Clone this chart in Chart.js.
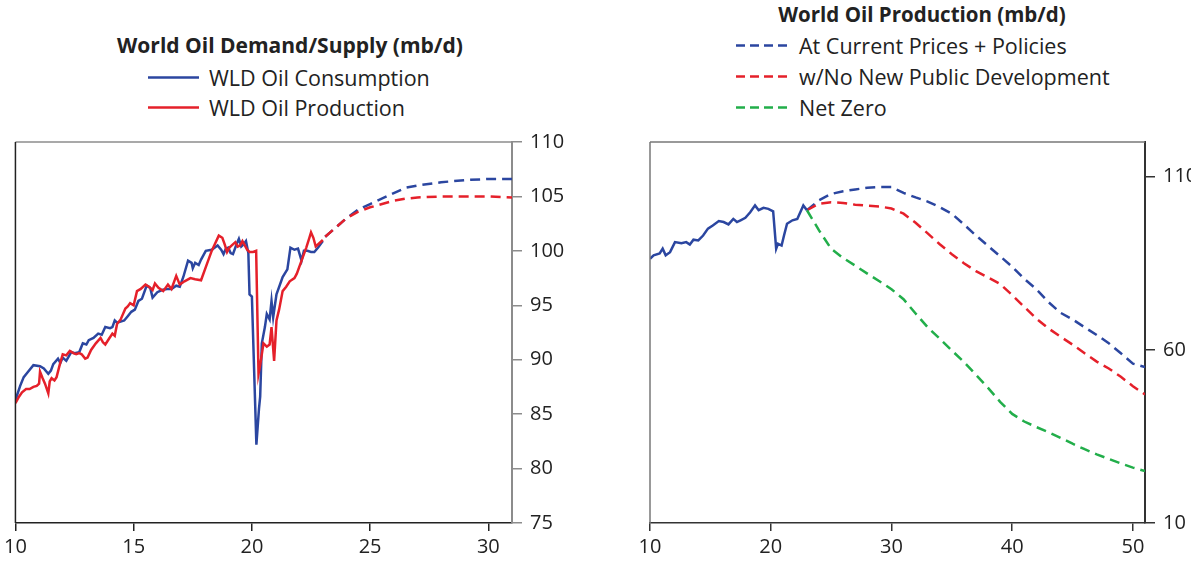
<!DOCTYPE html>
<html lang="en">
<head>
    <meta charset="UTF-8">
    <title>World Oil Demand / Supply</title>
    <script src="https://cdn.jsdelivr.net/npm/chart.js"></script>
    <style>
        body {
            margin: 0;
            background: #fff;
            font-family: "Open Sans", sans-serif;
            color: #222;
        }
        .page {
            position: relative;
            width: 1191px;
            height: 561px;
            overflow: hidden;
        }
        canvas {
            position: absolute;
            top: 122px;
        }
        .legend-title {
            position: absolute;
            font-weight: bold;
            font-size: 21px;
            white-space: nowrap;
            transform: translate(-50%, -50%);
        }
        .legend-item {
            position: absolute;
            font-size: 21.5px;
            white-space: nowrap;
            transform: translateY(-50%);
            display: flex;
            align-items: center;
        }
        .legend-item svg {
            margin-right: 10px;
        }
    </style>
</head>
<body>
<div class="page">
    <div class="legend-title" style="left:290px; top:45px;">World Oil Demand/Supply (mb/d)</div>
    <div class="legend-item" style="left:148px; top:77px;">
        <svg width="51" height="4"><line x1="0" y1="2" x2="51" y2="2" stroke="#2B46A0" stroke-width="2.5"/></svg>WLD Oil Consumption
    </div>
    <div class="legend-item" style="left:148px; top:107px;">
        <svg width="51" height="4"><line x1="0" y1="2" x2="51" y2="2" stroke="#E5202A" stroke-width="2.5"/></svg>WLD Oil Production
    </div>

    <div class="legend-title" style="left:922px; top:14px; font-size:20.5px;">World Oil Production (mb/d)</div>
    <div class="legend-item" style="left:736px; top:45px;">
        <svg width="53" height="4"><line x1="0" y1="2" x2="53" y2="2" stroke="#2B46A0" stroke-width="2.5" stroke-dasharray="9 5"/></svg>At Current Prices + Policies
    </div>
    <div class="legend-item" style="left:736px; top:76px;">
        <svg width="53" height="4"><line x1="0" y1="2" x2="53" y2="2" stroke="#E5202A" stroke-width="2.5" stroke-dasharray="9 5"/></svg>w/No New Public Development
    </div>
    <div class="legend-item" style="left:736px; top:107px;">
        <svg width="53" height="4"><line x1="0" y1="2" x2="53" y2="2" stroke="#22AE4A" stroke-width="2.5" stroke-dasharray="9 5"/></svg>Net Zero
    </div>

    <canvas id="demandChart" width="600" height="439" style="left:0px;"></canvas>
    <canvas id="productionChart" width="591" height="439" style="left:600px;"></canvas>
</div>

<script>
    // ---- left chart: demand / supply (years are 20xx) ----
    const consYears = [10.0, 10.2, 10.35, 10.5, 10.76, 11.04, 11.2, 11.39, 11.5, 11.6, 11.8, 11.9, 12.0, 12.15, 12.36, 12.5, 12.7, 12.85, 13.0, 13.1, 13.3, 13.5, 13.65, 13.8, 14.0, 14.1, 14.2, 14.3, 14.45, 14.6, 14.75, 14.9, 15.05, 15.2, 15.35, 15.55, 15.7, 15.8, 16.0, 16.2, 16.4, 16.6, 16.8, 16.95, 17.1, 17.3, 17.45, 17.5, 17.6, 17.75, 17.85, 18.05, 18.3, 18.55, 18.7, 18.8, 18.9, 19.0, 19.1, 19.2, 19.35, 19.45, 19.55, 19.65, 19.75, 19.85, 19.9, 20.0, 20.19, 20.3, 20.35, 20.42, 20.55, 20.63, 20.75, 20.83, 20.9, 21.04, 21.3, 21.5, 21.63, 21.8, 21.95, 22.1, 22.2, 22.35, 22.5, 22.64, 22.8, 23.0];
    const consValues = [86.3, 87.6, 88.4, 88.8, 89.5, 89.4, 89.2, 88.7, 89.0, 89.6, 90.1, 89.7, 90.2, 89.9, 90.7, 90.6, 90.7, 91.5, 91.4, 91.8, 92.0, 92.4, 92.3, 93.0, 92.9, 93.0, 93.6, 93.4, 93.5, 93.6, 94.0, 94.4, 94.6, 95.4, 95.6, 96.8, 96.6, 95.7, 96.2, 96.4, 96.5, 96.5, 96.8, 96.7, 97.6, 99.1, 98.9, 98.4, 98.9, 98.7, 99.2, 100.0, 100.1, 100.5, 100.1, 99.7, 100.2, 100.3, 99.8, 99.7, 100.6, 101.1, 100.4, 100.6, 100.9, 99.8, 96.0, 95.8, 82.2, 85.5, 86.6, 91.5, 93.0, 94.2, 93.7, 95.4, 93.9, 96.0, 97.6, 98.3, 100.3, 100.1, 100.2, 99.1, 100.0, 100.0, 99.9, 99.9, 100.3, 100.9];

    const prodYears = [10.0, 10.15, 10.28, 10.45, 10.6, 10.76, 10.9, 11.0, 11.04, 11.15, 11.25, 11.39, 11.45, 11.53, 11.65, 11.74, 11.88, 12.0, 12.15, 12.3, 12.45, 12.57, 12.7, 12.8, 12.95, 13.05, 13.2, 13.4, 13.6, 13.7, 13.8, 13.95, 14.1, 14.2, 14.3, 14.45, 14.65, 14.75, 14.85, 15.0, 15.14, 15.3, 15.5, 15.65, 15.8, 15.9, 16.05, 16.25, 16.45, 16.6, 16.8, 16.95, 17.15, 17.4, 17.6, 17.85, 18.1, 18.3, 18.45, 18.6, 18.75, 18.85, 18.95, 19.05, 19.15, 19.3, 19.4, 19.5, 19.6, 19.7, 19.8, 19.9, 20.05, 20.18, 20.28, 20.35, 20.49, 20.63, 20.75, 20.83, 20.94, 21.04, 21.15, 21.3, 21.45, 21.6, 21.8, 21.9, 22.1, 22.3, 22.43, 22.5, 22.6, 22.7, 22.85, 23.0];
    const prodValues = [86.0, 86.6, 87.0, 87.3, 87.3, 87.5, 87.6, 87.8, 88.9, 88.3, 87.8, 86.9, 88.0, 88.3, 88.1, 88.4, 89.6, 90.5, 90.4, 90.8, 90.6, 90.5, 90.6, 90.5, 90.1, 90.2, 90.9, 91.5, 92.0, 91.6, 91.4, 91.9, 92.4, 92.2, 93.3, 93.7, 94.7, 94.9, 95.2, 95.0, 96.3, 96.5, 96.9, 96.7, 96.4, 97.0, 96.6, 96.3, 96.9, 96.5, 97.7, 96.9, 97.2, 97.5, 97.4, 97.3, 98.8, 100.0, 100.7, 101.4, 101.2, 100.6, 99.9, 100.3, 100.5, 100.8, 100.4, 100.5, 100.9, 100.5, 100.1, 99.9, 99.9, 100.0, 88.7, 89.5, 91.5, 91.2, 91.4, 93.0, 89.9, 93.6, 94.6, 96.3, 96.7, 97.2, 97.5, 97.9, 99.1, 100.3, 101.2, 101.7, 101.2, 100.4, 100.7, 101.0];

    const projYears = [23.1, 24.0, 24.5, 25.0, 26.0, 26.5, 27.0, 28.0, 29.0, 30.0, 31.0];
    const consProjValues = [101.3, 103.0, 103.8, 104.3, 105.3, 105.8, 106.0, 106.3, 106.5, 106.6, 106.6];
    const prodProjValues = [101.3, 103.0, 103.6, 104.0, 104.6, 104.8, 104.9, 105.0, 105.0, 105.0, 104.9];

    const leftXTicks = [10, 15, 20, 25, 30];
    const leftYTicks = [75, 80, 85, 90, 95, 100, 105, 110];

    // ---- right chart: production scenarios ----
    const histYears = [10.0, 10.3, 10.8, 11.05, 11.3, 11.66, 12.07, 12.6, 13.0, 13.3, 13.6, 14.0, 14.4, 14.8, 15.2, 15.7, 16.1, 16.5, 16.9, 17.2, 17.5, 17.9, 18.3, 18.7, 19.0, 19.4, 19.8, 20.2, 20.45, 20.6, 20.9, 21.1, 21.35, 21.8, 22.2, 22.7, 23.0];
    const histValues = [86.3, 87.3, 87.8, 89.2, 87.3, 88.2, 91.1, 90.8, 91.1, 90.4, 91.8, 91.6, 93.0, 95.0, 95.9, 97.2, 96.9, 96.2, 97.8, 96.9, 97.4, 98.1, 99.7, 101.7, 100.3, 101.0, 100.7, 100.0, 89.2, 90.6, 90.1, 93.0, 96.4, 97.4, 97.8, 101.7, 100.3];

    const scenYears = [23, 24, 25, 26, 27, 28, 29, 30, 31, 32, 33, 34, 35, 36, 37, 38, 39, 40, 41, 42, 43, 44, 45, 46, 47, 48, 49, 50, 51];
    const currentPolicy = [100.3, 103.2, 105.0, 105.8, 106.3, 106.8, 107.0, 107.0, 105.3, 104.0, 102.8, 101.2, 99.3, 96.2, 93.0, 90.0, 87.0, 84.0, 80.5, 77.5, 73.8, 70.7, 68.8, 66.5, 64.3, 61.9, 59.0, 56.0, 55.0];
    const noNewPublic = [100.3, 102.2, 102.6, 102.4, 101.9, 101.6, 101.4, 100.8, 99.3, 96.7, 93.6, 90.5, 87.6, 85.0, 82.7, 80.9, 79.0, 75.8, 72.4, 69.0, 66.2, 63.8, 61.5, 59.0, 56.6, 54.6, 52.2, 49.5, 47.1];
    const netZero = [100.3, 94.5, 89.2, 86.5, 84.3, 82.0, 79.8, 77.5, 74.6, 70.5, 66.5, 63.2, 59.8, 56.5, 52.8, 49.0, 45.0, 41.5, 39.3, 37.7, 36.2, 34.6, 32.9, 31.3, 29.8, 28.5, 27.2, 26.0, 25.0];

    const rightXTicks = [10, 20, 30, 40, 50];
    const rightYTicks = [10, 60, 110];

    const BLUE = '#2B46A0';
    const RED = '#E5202A';
    const GREEN = '#22AE4A';
    const tickFont = { family: 'Open Sans', size: 20 };

    const pts = (xs, ys) => xs.map((x, i) => ({ x: x, y: ys[i] }));

    function line(data, color, dashed, order) {
        return {
            data: data,
            borderColor: color,
            borderWidth: 2.5,
            borderDash: dashed ? [10, 6] : [],
            pointRadius: 0,
            tension: 0,
            fill: false,
            order: order
        };
    }

    // draws the top and left sides of the plot box
    function framePlugin(topColor, leftColor) {
        return {
            id: 'frame',
            afterDatasetsDraw(chart) {
                const a = chart.chartArea;
                const ctx = chart.ctx;
                ctx.save();
                ctx.lineWidth = 1.5;
                ctx.strokeStyle = topColor;
                ctx.beginPath();
                ctx.moveTo(a.left, a.top);
                ctx.lineTo(a.right, a.top);
                ctx.stroke();
                ctx.strokeStyle = leftColor;
                ctx.beginPath();
                ctx.moveTo(a.left, a.top);
                ctx.lineTo(a.left, a.bottom);
                ctx.stroke();
                ctx.restore();
            }
        };
    }

    function makeOptions(xr, yr, xTicks, yTicks, padLeft, yWidth, xColor, yColor) {
        return {
            responsive: false,
            animation: false,
            layout: { padding: { left: padLeft, top: 0, right: 0, bottom: 0 } },
            plugins: { legend: { display: false }, tooltip: { enabled: false } },
            scales: {
                x: {
                    type: 'linear',
                    position: 'bottom',
                    min: xr[0],
                    max: xr[1],
                    afterBuildTicks: s => { s.ticks = xTicks.map(v => ({ value: v })); },
                    afterFit: s => { s.height = 38; },
                    ticks: { font: tickFont, color: '#222', padding: 4, maxRotation: 0, autoSkip: false },
                    grid: { drawOnChartArea: false, drawTicks: true, tickLength: 8, color: xColor, lineWidth: 1.5 },
                    border: { color: xColor, width: 1.5 }
                },
                y: {
                    type: 'linear',
                    position: 'right',
                    min: yr[0],
                    max: yr[1],
                    afterBuildTicks: s => { s.ticks = yTicks.map(v => ({ value: v })); },
                    afterFit: s => { s.width = yWidth; },
                    ticks: { font: tickFont, color: '#222', padding: 8 },
                    grid: { drawOnChartArea: false, drawTicks: true, tickLength: 10, color: yColor, lineWidth: 1.5 },
                    border: { color: yColor, width: 2 }
                }
            }
        };
    }

    new Chart(document.getElementById('demandChart').getContext('2d'), {
        type: 'line',
        data: {
            datasets: [
                line(pts(prodYears, prodValues), RED, false, 1),
                line(pts(consYears, consValues), BLUE, false, 2),
                line(pts(projYears, prodProjValues), RED, true, 3),
                line(pts(projYears, consProjValues), BLUE, true, 4)
            ]
        },
        options: makeOptions([10, 31], [75, 110], leftXTicks, leftYTicks, 15, 88, '#222', '#8c8c8c'),
        plugins: [framePlugin('#8c8c8c', '#222')]
    });

    new Chart(document.getElementById('productionChart').getContext('2d'), {
        type: 'line',
        data: {
            datasets: [
                line(pts(histYears, histValues), BLUE, false, 1),
                line(pts(scenYears, netZero), GREEN, true, 2),
                line(pts(scenYears, noNewPublic), RED, true, 3),
                line(pts(scenYears, currentPolicy), BLUE, true, 4)
            ]
        },
        options: makeOptions([10, 51], [10, 120], rightXTicks, rightYTicks, 50, 46, '#333', '#333'),
        plugins: [framePlugin('#777', '#777')]
    });
</script>
</body>
</html>
